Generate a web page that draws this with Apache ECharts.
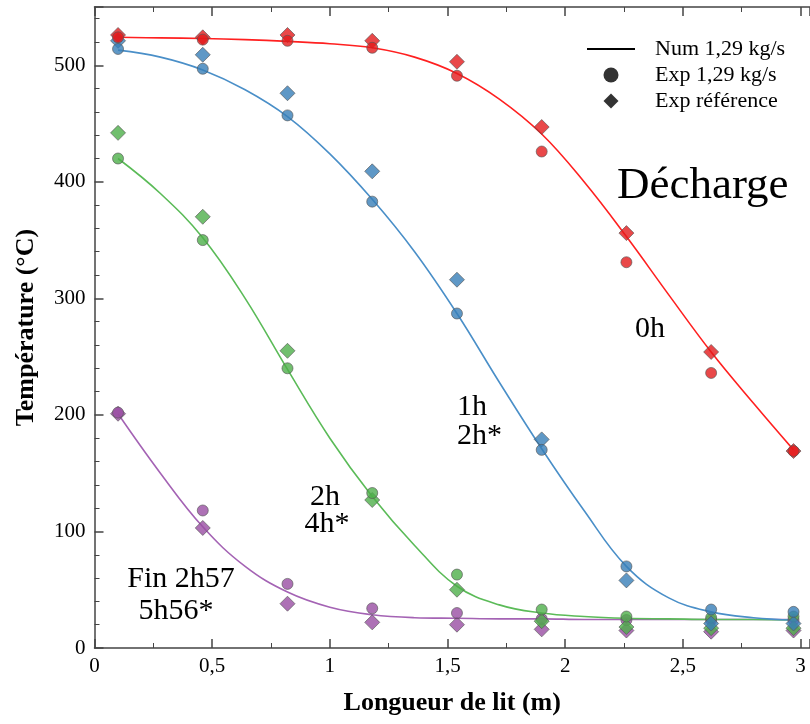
<!DOCTYPE html>
<html>
<head>
<meta charset="utf-8">
<script src="https://cdn.jsdelivr.net/npm/echarts@6/dist/echarts.min.js"></script>
<style>
html,body{margin:0;padding:0;background:#fff;}
#chart{width:810px;height:724px;}
</style>
</head>
<body>
<div id="chart"></div>
<script>
// Positions along the bed (m)
var xExp = [0.1, 0.46, 0.82, 1.18, 1.54, 1.90, 2.26, 2.62, 2.97];
var xNum = [0.1, 0.28, 0.46, 0.64, 0.82, 1.0, 1.18, 1.36, 1.54, 1.72, 1.90, 2.08, 2.26, 2.44, 2.62, 2.80, 2.97];

// 0h
var redExp = [524, 522, 521, 515, 491, 426, 331, 236, 169];
var redRef = [526, 524, 526, 521, 503, 447, 356, 254, 169];
var redNum = [524, 523.5, 523, 522, 520.5, 518.5, 515, 507, 493, 471, 441, 400, 353, 303, 254, 210, 170];
// 1h / 2h*
var blueExp = [514, 497, 457, 383, 287, 170, 70, 33, 31];
var blueRef = [521, 509, 476, 409, 316, 179, 58, 21, 21];
var blueNum = [513, 507, 496, 479, 456, 424, 385, 340, 287, 228, 171, 118, 70, 43, 31, 26, 24];
// 2h / 4h*
var greenExp = [420, 350, 240, 133, 63, 33, 27, 26, 27];
var greenRef = [442, 370, 255, 127, 50, 23, 18, 17, 17];
var greenNum = [420, 390, 352, 300, 239, 180, 130, 88, 53, 37, 30, 27, 25.5, 25, 24.5, 24.5, 24];
// Fin 2h57 / 5h56*
var purpleExp = [202, 118, 55, 34, 30, 25, 24, 24, 24];
var purpleRef = [201, 103, 38, 22, 20, 16, 15, 14, 15];
var purpleNum = [201, 150, 104, 70, 48, 35, 28.5, 26, 25.5, 25, 25, 24.5, 24.5, 24.5, 24.5, 24.5, 24.5];

var legendNames = ['Num 1,29 kg/s', 'Exp 1,29 kg/s', 'Exp référence'];
var xTitle = 'Longueur de lit (m)';
var yTitle = 'Température (°C)';

var FONT = '"Liberation Serif", "Times New Roman", serif';

function pairs(xs, ys) { return xs.map(function (x, i) { return [x, ys[i]]; }); }

var groups = [
  { num: purpleNum, exp: purpleExp, ref: purpleRef, pt: '#984ea3', ln: '#a463b4' },
  { num: greenNum, exp: greenExp, ref: greenRef, pt: '#4daf4a', ln: '#5bbb58' },
  { num: blueNum, exp: blueExp, ref: blueRef, pt: '#377eb8', ln: '#4a8fc8' },
  { num: redNum, exp: redExp, ref: redRef, pt: '#e41a1c', ln: '#ff2020' }
];

var series = [];
groups.forEach(function (g) {
  series.push({
    type: 'line', data: pairs(xNum, g.num), smooth: 0.4, symbol: 'none',
    lineStyle: { color: g.ln, width: 1.6 }, z: 2, silent: true
  });
});
groups.forEach(function (g) {
  series.push({
    type: 'scatter', data: pairs(xExp, g.ref), symbol: 'diamond', symbolSize: 15,
    itemStyle: { color: g.pt, borderColor: '#555', borderWidth: 0.8 }, z: 3
  });
  series.push({
    type: 'scatter', data: pairs(xExp, g.exp), symbol: 'circle', symbolSize: 11,
    itemStyle: { color: g.pt, borderColor: '#555', borderWidth: 0.8 }, z: 3
  });
});
// legend-only series
series.push({ name: legendNames[0], type: 'line', data: [], symbol: 'none', lineStyle: { color: '#000', width: 2 }, itemStyle: { color: '#000' } });
series.push({ name: legendNames[1], type: 'scatter', data: [], symbol: 'circle', itemStyle: { color: '#000' } });
series.push({ name: legendNames[2], type: 'scatter', data: [], symbol: 'diamond', itemStyle: { color: '#000' } });

var axisLineStyle = { color: '#444', width: 1.5 };

var option = {
  animation: false,
  backgroundColor: '#fff',
  grid: { left: 94.5, right: 0, top: 7, bottom: 76 },
  legend: {
    orient: 'vertical', left: 582, top: 33, itemWidth: 48, itemHeight: 15, itemGap: 4,
    data: [
      { name: legendNames[0], icon: 'path://M0 0H48V2H0Z' },
      { name: legendNames[1], icon: 'path://M0 6A6 6 0 1 0 12 6A6 6 0 1 0 0 6Z' },
      { name: legendNames[2], icon: 'path://M8 0L16 8L8 16L0 8Z' }
    ],
    textStyle: { fontFamily: FONT, fontSize: 22, color: '#000', padding: [0, 0, 0, 15] },
    selectedMode: false
  },
  xAxis: [{
    type: 'value', min: 0, max: 3.04, interval: 0.5,
    axisLine: { show: true, lineStyle: axisLineStyle },
    axisTick: { inside: true, length: 9, lineStyle: axisLineStyle },
    minorTick: { show: true, splitNumber: 2, length: 5, lineStyle: { color: '#444', width: 1 } },
    splitLine: { show: false },
    axisLabel: {
      showMaxLabel: false, margin: 8, fontFamily: FONT, fontSize: 21, color: '#000',
      formatter: function (v) { return String(v).replace('.', ','); }
    },
    name: xTitle, nameLocation: 'middle', nameGap: 42,
    nameTextStyle: { fontFamily: FONT, fontWeight: 'bold', fontSize: 26, color: '#000' }
  }, {
    type: 'value', position: 'top', min: 0, max: 3.04, interval: 0.5,
    axisLine: { show: true, lineStyle: axisLineStyle },
    axisTick: { inside: true, length: 9, lineStyle: axisLineStyle },
    minorTick: { show: true, splitNumber: 2, length: 5, lineStyle: { color: '#444', width: 1 } },
    splitLine: { show: false },
    axisLabel: { show: false }
  }],
  yAxis: [{
    type: 'value', min: 0, max: 550, interval: 100,
    axisLine: { show: true, lineStyle: axisLineStyle },
    axisTick: { inside: true, length: 9, lineStyle: axisLineStyle },
    minorTick: { show: true, splitNumber: 5, length: 5, lineStyle: { color: '#444', width: 1 } },
    splitLine: { show: false },
    axisLabel: { showMaxLabel: false, margin: 9, fontFamily: FONT, fontSize: 21, color: '#000' },
    name: yTitle, nameLocation: 'middle', nameGap: 55, nameRotate: 90,
    nameTextStyle: { fontFamily: FONT, fontWeight: 'bold', fontSize: 26, color: '#000' }
  }],
  graphic: [
    { type: 'text', x: 617, y: 186, style: { text: 'Décharge', font: '45px ' + FONT, fill: '#000', textAlign: 'left', textVerticalAlign: 'middle' } },
    { type: 'text', x: 650, y: 329, style: { text: '0h', font: '30px ' + FONT, fill: '#000', textAlign: 'center', textVerticalAlign: 'middle' } },
    { type: 'text', x: 457, y: 407, style: { text: '1h', font: '30px ' + FONT, fill: '#000', textAlign: 'left', textVerticalAlign: 'middle' } },
    { type: 'text', x: 457, y: 436, style: { text: '2h*', font: '30px ' + FONT, fill: '#000', textAlign: 'left', textVerticalAlign: 'middle' } },
    { type: 'text', x: 325, y: 497, style: { text: '2h', font: '30px ' + FONT, fill: '#000', textAlign: 'center', textVerticalAlign: 'middle' } },
    { type: 'text', x: 327, y: 524, style: { text: '4h*', font: '30px ' + FONT, fill: '#000', textAlign: 'center', textVerticalAlign: 'middle' } },
    { type: 'text', x: 181, y: 579, style: { text: 'Fin 2h57', font: '30px ' + FONT, fill: '#000', textAlign: 'center', textVerticalAlign: 'middle' } },
    { type: 'text', x: 176, y: 611, style: { text: '5h56*', font: '30px ' + FONT, fill: '#000', textAlign: 'center', textVerticalAlign: 'middle' } }
  ],
  series: series
};

var chart = echarts.init(document.getElementById('chart'), null, { renderer: 'canvas' });
chart.setOption(option);
</script>
</body>
</html>
